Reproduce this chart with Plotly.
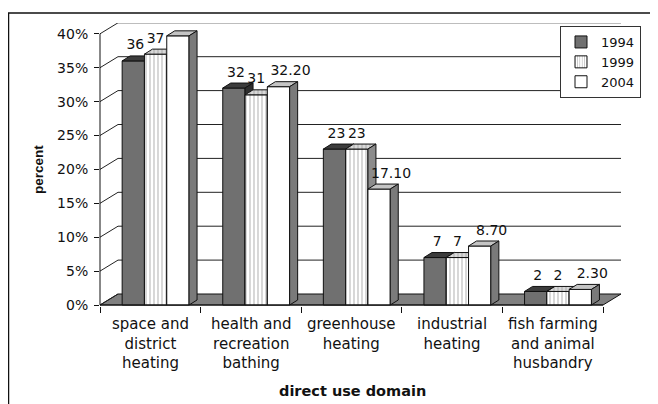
import plotly.graph_objects as go

# ---------------- data ----------------
categories = ["space and<br>district<br>heating",
              "health and<br>recreation<br>bathing",
              "greenhouse<br>heating",
              "industrial<br>heating",
              "fish farming<br>and animal<br>husbandry"]
years = ["1994", "1999", "2004"]
values_1994 = [36, 32, 23, 7, 2]
values_1999 = [37, 31, 23, 7, 2]
values_2004 = [39.70, 32.20, 17.10, 8.70, 2.30]
y_ticks = [0, 5, 10, 15, 20, 25, 30, 35, 40]
y_tick_labels = [f"{t}%" for t in y_ticks]

series = [values_1994, values_1999, values_2004]
label_fmt = ["{:g}", "{:g}", "{:.2f}"]

# ---------------- geometry / style ----------------
W, H = 658, 404
OFF = 8                 # page body margin: figure pixel = screen pixel - OFF
PLOT_L, PLOT_R, PLOT_T, PLOT_B = 100, 650, 23, 306   # screen pixels
L_M, R_M = PLOT_L - OFF, W - (PLOT_R - OFF)
T_M, B_M = PLOT_T - OFF, H - (PLOT_B - OFF)
PW, PH = W - L_M - R_M, H - T_M - B_M
CAT_PX = 100.6          # pixels per category
PX_PER_PCT = 6.78       # pixels per percent
Y0_PX = 305             # screen row of 0%
x_range = [0, PW / CAT_PX]
y_range = [-(PLOT_B - Y0_PX) / PX_PER_PCT, (Y0_PX - PLOT_T) / PX_PER_PCT]

WALL_DX = 18 / CAT_PX
WALL_DY = 11 / PX_PER_PCT
BAR_W = 22.3 / CAT_PX
BAR_SHIFT = 5.3 / CAT_PX
BAR_DX = 8 / CAT_PX
BAR_DY = 5 / PX_PER_PCT
LABEL_DX = [2 / CAT_PX, 0 / CAT_PX, 12 / CAT_PX]
LABEL_DY = 15 / PX_PER_PCT

FONT = "DejaVu Sans"
styles = [
    dict(front="#707070", top="#3c3c3c", side="#2e2e2e", pattern=None),
    dict(front="#ffffff", top="#d8d8d8", side="#8c8c8c",
         pattern=dict(shape="|", size=4, solidity=0.3, fgcolor="#7a7a7a")),
    dict(front="#ffffff", top="#c4c4c4", side="#7a7a7a", pattern=None),
]


def px_x(px):
    """screen x pixel -> paper fraction"""
    return (px - PLOT_L) / PW


def px_y(py):
    """screen y pixel -> paper fraction"""
    return (PLOT_B - py) / PH


fig = go.Figure()

# bar faces drawn series by series (painter's order, left to right)
for k, vals in enumerate(series):
    st = styles[k]
    fx, fy, tx, ty, sx, sy = [], [], [], [], [], []
    for i, v in enumerate(vals):
        xl = i + 0.5 + BAR_SHIFT + (k - 1.5) * BAR_W
        xr = xl + BAR_W
        fx += [xl, xr, xr, xl, xl, None]
        fy += [0, 0, v, v, 0, None]
        tx += [xl, xr, xr + BAR_DX, xl + BAR_DX, xl, None]
        ty += [v, v, v + BAR_DY, v + BAR_DY, v, None]
        sx += [xr, xr + BAR_DX, xr + BAR_DX, xr, xr, None]
        sy += [0, BAR_DY, v + BAR_DY, v, 0, None]
    for xs, ys, face in ((fx, fy, "front"), (tx, ty, "top"), (sx, sy, "side")):
        kw = {}
        if st["pattern"] is not None and face in ("front", "top"):
            p = dict(st["pattern"])
            p["bgcolor"] = st[face]
            if face == "top":
                p["fgcolor"] = "#8a8a8a"
            kw["fillpattern"] = p
        fig.add_trace(go.Scatter(
            x=xs, y=ys, mode="lines", fill="toself", fillcolor=st[face],
            line=dict(color="#111111", width=1), hoverinfo="skip",
            showlegend=False, **kw))

# data labels
for k, vals in enumerate(series):
    xs = [i + 0.5 + BAR_SHIFT + (k - 1) * BAR_W + LABEL_DX[k] for i in range(len(vals))]
    ys = [v + LABEL_DY for v in vals]
    fig.add_trace(go.Scatter(
        x=xs, y=ys, mode="text", text=[label_fmt[k].format(v) for v in vals],
        textposition="middle center", textfont=dict(family=FONT, size=14, color="#111111"),
        cliponaxis=False, hoverinfo="skip", showlegend=False))

# legend entries
for k, yr in enumerate(years):
    st = styles[k]
    marker = dict(color=st["front"], line=dict(color="#111111", width=1))
    if st["pattern"] is not None:
        p = dict(st["pattern"])
        p["bgcolor"] = st["front"]
        p["size"] = 3
        marker["pattern"] = p
    fig.add_trace(go.Bar(x=[None], y=[None], name=yr, marker=marker, showlegend=True))

shapes = []
n = len(categories)
# floor
shapes.append(dict(type="path", xref="x", yref="y", layer="below",
                   path=f"M0,0 L{n},0 L{n + WALL_DX},{WALL_DY} L{WALL_DX},{WALL_DY} Z",
                   fillcolor="#808080", line=dict(color="#111111", width=1)))
# back-wall gridlines and left-wall diagonals
for t in y_ticks:
    if t > 0:
        shapes.append(dict(type="line", xref="x", yref="y", layer="below",
                           x0=WALL_DX, x1=n + WALL_DX, y0=t + WALL_DY, y1=t + WALL_DY,
                           line=dict(color="#222222", width=1)))
    shapes.append(dict(type="line", xref="x", yref="y", layer="below",
                       x0=0, x1=WALL_DX, y0=t, y1=t + WALL_DY,
                       line=dict(color="#222222", width=1)))
# front floor edge / x axis line
shapes.append(dict(type="line", xref="x", yref="y", x0=0, x1=n, y0=0, y1=0,
                   line=dict(color="#111111", width=1)))
# y axis line
shapes.append(dict(type="line", xref="paper", yref="y", x0=0, x1=0, y0=0, y1=max(y_ticks),
                   line=dict(color="#111111", width=1)))
# outer chart frame
shapes.append(dict(type="rect", xref="paper", yref="paper",
                   x0=px_x(8.5), x1=px_x(720), y0=px_y(13), y1=px_y(460),
                   line=dict(color="#111111", width=1.5)))

annotations = []
for i, c in enumerate(categories):
    annotations.append(dict(x=i + 0.5, xref="x", y=px_y(313), yref="paper",
                            yanchor="top", xanchor="center", text=c, showarrow=False,
                            align="center", font=dict(family=FONT, size=15, color="#111111")))
annotations.append(dict(x=px_x(352), xref="paper", y=px_y(391), yref="paper",
                        xanchor="center", yanchor="middle",
                        text="<b>direct use domain</b>", showarrow=False,
                        font=dict(family=FONT, size=14.5, color="#111111")))
annotations.append(dict(x=px_x(38), xref="paper", y=px_y(170), yref="paper",
                        xanchor="center", yanchor="middle",
                        text="<b>percent</b>", showarrow=False, textangle=-90,
                        font=dict(family="Liberation Sans", size=13.5, color="#111111")))

fig.update_layout(
    width=W, height=H,
    margin=dict(l=L_M, r=R_M, t=T_M, b=B_M, autoexpand=False),
    paper_bgcolor="white", plot_bgcolor="white",
    shapes=shapes, annotations=annotations,
    xaxis=dict(range=x_range, showgrid=False, zeroline=False, showline=False,
               automargin=False,
               tickmode="array", tickvals=list(range(n + 1)), ticktext=[""] * (n + 1),
               ticks="outside", ticklen=6, tickcolor="#111111"),
    yaxis=dict(range=y_range, showgrid=False, zeroline=False, showline=False,
               automargin=False,
               tickmode="array", tickvals=y_ticks, ticktext=y_tick_labels,
               ticks="outside", ticklen=5, tickcolor="#111111", ticklabelstandoff=3,
               tickfont=dict(family=FONT, size=14, color="#111111")),
    legend=dict(x=px_x(641), xanchor="right", y=px_y(26), yanchor="top",
                bgcolor="white", bordercolor="#333333", borderwidth=1,
                itemwidth=30,
                font=dict(family=FONT, size=13, color="#111111"), tracegroupgap=0),
    showlegend=True,
)

fig.write_html("out.html")
